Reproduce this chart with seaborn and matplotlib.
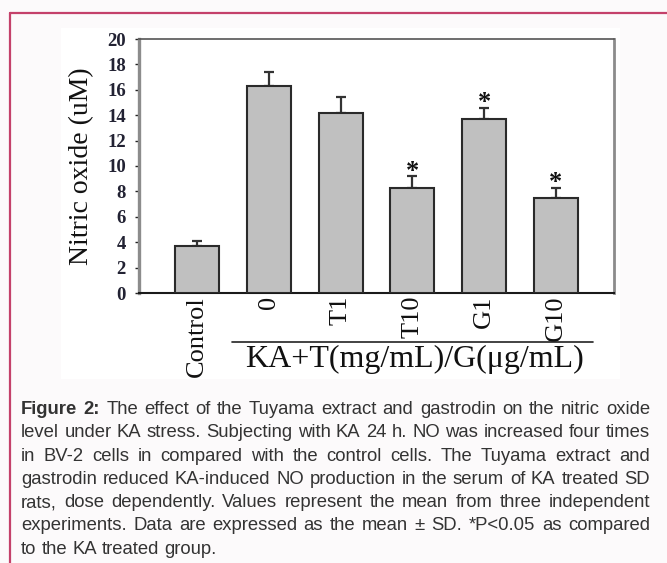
import matplotlib
matplotlib.use("Agg")
import matplotlib.pyplot as plt
import seaborn as sns
import pandas as pd
import numpy as np
from matplotlib.lines import Line2D
from matplotlib.patches import Rectangle

# ---------------- data ----------------
categories = ["Control", "0", "T1", "T10", "G1", "G10"]
means = [3.7, 16.3, 14.2, 8.3, 13.7, 7.45]
sds = [0.4, 1.1, 1.2, 0.9, 0.9, 0.85]
significant = [False, False, False, True, True, True]
y_ticks = [0, 2, 4, 6, 8, 10, 12, 14, 16, 18, 20]
y_label = "Nitric oxide (uM)"
group_label = "KA+T(mg/mL)/G(\u03bcg/mL)"
caption_lines = [
    "Figure 2: The effect of the Tuyama extract and gastrodin on the nitric oxide",
    "level under KA stress. Subjecting with KA 24 h. NO was increased four times",
    "in BV-2 cells in compared with the control cells. The Tuyama extract and",
    "gastrodin reduced KA-induced NO production in the serum of KA treated SD",
    "rats, dose dependently. Values represent the mean from three independent",
    "experiments. Data are expressed as the mean \u00b1 SD. *P<0.05 as compared",
    "to the KA treated group.",
]

# ---------------- figure ----------------
W, H = 667, 563
DPI = 100
sns.set_theme(style="white")
plt.rcParams["font.family"] = ["Liberation Serif", "DejaVu Serif"]

fig = plt.figure(figsize=(W / DPI, H / DPI), dpi=DPI)
fig.patch.set_facecolor("#fcfafb")


def fx(px):
    return px / W


def fy(py):
    return 1 - py / H


# white chart panel
fig.add_artist(Rectangle((fx(61), fy(379)), fx(620) - fx(61), fy(28) - fy(379),
                         transform=fig.transFigure, facecolor="white",
                         edgecolor="none", zorder=0))
# crimson frame
frame_col = "#c4416a"
fig.add_artist(Line2D([fx(9.5), fx(667)], [fy(13), fy(13)], transform=fig.transFigure,
                      color=frame_col, lw=1.6, zorder=1))
fig.add_artist(Line2D([fx(9.5), fx(9.5)], [fy(13), fy(563)], transform=fig.transFigure,
                      color=frame_col, lw=1.6, zorder=1))

ax = fig.add_axes([fx(139), fy(293), fx(614) - fx(139), fy(39) - fy(293)])
ax.set_facecolor("none")

df = pd.DataFrame({"group": categories, "value": means})
sns.barplot(data=df, x="group", y="value", order=categories, color="#c0c0c0",
            saturation=1, width=0.61, edgecolor="#2a2a2a", linewidth=1.5,
            errorbar=None, ax=ax, zorder=3)

xpos = np.arange(len(categories))
ax.errorbar(xpos, means, yerr=[np.zeros(len(sds)), sds], fmt="none",
            ecolor="#333333", elinewidth=1.6, capsize=3.8, capthick=1.6, zorder=2)

for i, (m, s, sig) in enumerate(zip(means, sds, significant)):
    if sig:
        ax.annotate("*", xy=(i, m + s + 0.85), xytext=(0, -9), textcoords="offset points",
                    ha="center", va="baseline", fontsize=19, fontweight="bold",
                    color="#111111", family="Liberation Serif")

ax.set_xlim(-0.81, 5.81)
ax.set_ylim(0, 20)
ax.set_yticks(y_ticks)
ax.set_yticklabels([str(t) for t in y_ticks], fontsize=13.5, fontweight="bold",
                   color="#222233", family="Liberation Serif")
ax.set_xticks(xpos)
ax.set_xticklabels(categories, rotation=90, fontsize=19, color="#111111",
                   family="Liberation Serif")
ax.tick_params(axis="y", direction="out", length=3, width=1, color="#222222", pad=6.5,
               left=True)
ax.tick_params(axis="x", length=0, pad=2)
ax.set_xlabel("")
ax.set_ylabel(y_label, fontsize=20, color="#111111", family="Liberation Serif")
ax.yaxis.set_label_coords((94 - 139) / 475, 0.5)

for side, col, lw in [("left", "#8c8c8c", 2.4), ("right", "#8c8c8c", 2.0),
                      ("top", "#555555", 1.2), ("bottom", "#1a1a1a", 1.5)]:
    ax.spines[side].set_visible(True)
    ax.spines[side].set_color(col)
    ax.spines[side].set_linewidth(lw)

# group bracket line and label
fig.add_artist(Line2D([fx(231.7), fx(593)], [fy(341.7), fy(341.7)], transform=fig.transFigure,
                      color="#222222", lw=1.2))
fig.text(fx(414), fy(367), group_label, ha="center", va="baseline", fontsize=23,
         color="#111111", family="Liberation Serif")

# ---------------- justified caption ----------------
renderer = fig.canvas.get_renderer()
cap_size = 13.3
cap_left, cap_right = 21, 650
first_base, line_h = 414, 23.3
space_px = 0.278 * cap_size * DPI / 72
for i, line in enumerate(caption_lines):
    words = line.split(" ")
    texts = []
    for j, w in enumerate(words):
        bold = (i == 0 and j < 2)
        t = fig.text(0, fy(first_base + i * line_h), w, fontsize=cap_size,
                     fontweight="bold" if bold else "normal",
                     family=["Liberation Sans", "DejaVu Sans"], color="#333333",
                     ha="left", va="baseline")
        texts.append(t)
    widths = [t.get_window_extent(renderer).width for t in texts]
    if i < len(caption_lines) - 1 and len(words) > 1:
        gap = (cap_right - cap_left - sum(widths)) / (len(words) - 1)
    else:
        gap = space_px
    x = cap_left
    for t, w in zip(texts, widths):
        t.set_x(fx(x))
        x += w + gap

fig.savefig("out.png", dpi=DPI, facecolor=fig.get_facecolor())
